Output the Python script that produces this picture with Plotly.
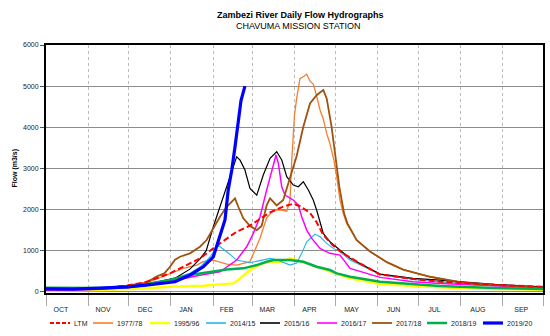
import plotly.graph_objects as go

# Day of hydrological year (0 = 1 Oct), flow in m3/s
ltm_day = [0, 20, 40, 60, 73.6, 91.3, 113.4, 128.1, 140.4, 150.2, 165, 174.7, 182.1, 187, 194.4, 199.3, 204.2, 211.6, 218.9, 231.2, 246, 270.3, 290.1, 330, 366]
ltm_val = [55, 60, 80, 150, 236, 447, 812, 1177, 1459, 1610, 1930, 2070, 2140, 2080, 1920, 1690, 1380, 1120, 930, 690, 420, 310, 245, 170, 120]

y7778_day = [0, 20, 39.8, 60, 76.6, 91.3, 101.1, 111, 115.8, 123.2, 133.1, 140.4, 150.2, 157.6, 162.5, 167.4, 172.3, 177.3, 179.7, 181, 183, 184.6, 187, 190, 192, 194.4, 196.8, 199.3, 201.8, 204.2, 206.7, 209.1, 212, 214.1, 216.5, 218.9, 221.4, 228.8, 238.6, 251, 263, 282.8, 307, 332, 366]
y7778_val = [60, 60, 80, 150, 250, 450, 569, 649, 730, 771, 673, 649, 730, 1300, 1800, 1980, 1990, 1960, 2230, 3203, 4300, 4700, 5180, 5240, 5290, 5120, 5050, 4760, 4420, 4200, 3850, 3600, 3203, 2797, 2230, 1906, 1663, 1257, 980, 720, 540, 365, 219, 163, 97]

y9596_day = [0, 20, 39.8, 60, 76.6, 91.3, 115.8, 137.9, 141.6, 145.3, 150.2, 155.2, 160, 165, 174.7, 179.7, 184.6, 192, 199.3, 209.1, 216.5, 223.9, 246, 290.1, 330, 366]
y9596_val = [30, 30, 40, 60, 90, 122, 146, 204, 285, 380, 528, 620, 690, 730, 730, 812, 771, 690, 608, 486, 406, 326, 187, 107, 70, 50]

y1415_day = [0, 20, 39.8, 60, 73.6, 91.3, 106, 113.4, 120.8, 126.9, 133.1, 140.4, 150.2, 157.6, 165, 169.9, 174.7, 179.7, 184.6, 188.3, 192, 198.1, 201.8, 206.7, 211.6, 216.5, 223.9, 246, 270.3, 290.1, 330, 366]
y1415_val = [50, 50, 70, 120, 180, 300, 450, 600, 850, 1130, 973, 771, 705, 760, 812, 780, 706, 649, 700, 934, 1216, 1403, 1338, 1177, 1055, 973, 771, 420, 300, 240, 150, 110]

y1516_day = [0, 20, 39.8, 60, 73.6, 95, 106, 113.4, 118, 123.2, 128.1, 133.1, 136.8, 140.4, 142.9, 146.5, 150.2, 155.2, 160, 165, 169.9, 173.6, 177.3, 182.1, 185.8, 189.5, 193.2, 196.8, 199.3, 201.8, 204.2, 209.1, 216.5, 223.9, 246, 270.3, 290.1, 330, 366]
y1516_val = [60, 55, 80, 130, 180, 330, 550, 800, 1000, 1581, 2067, 2554, 2879, 3283, 3200, 2960, 2515, 2350, 2838, 3244, 3405, 3203, 2797, 2595, 2554, 2675, 2473, 2230, 1987, 1663, 1420, 1216, 1014, 812, 430, 326, 285, 180, 120]

y1617_day = [0, 20, 39.8, 60, 73.6, 91.3, 113.4, 128.1, 140.4, 147.8, 152.7, 157.6, 162.5, 167.4, 169.4, 171.1, 173.6, 176, 182.1, 185.8, 188.3, 192, 195.7, 201.8, 209.1, 216.5, 223.9, 246, 270.3, 290.1, 330, 366]
y1617_val = [40, 40, 60, 100, 150, 250, 400, 486, 771, 1095, 1420, 1824, 2473, 3040, 3324, 3122, 2554, 2352, 2230, 2108, 1824, 1500, 1298, 1055, 934, 892, 569, 350, 243, 204, 140, 90]

y1718_day = [0, 20, 39.8, 60, 73.6, 81, 87.1, 91.3, 95, 98.7, 106, 113.4, 118.3, 123.2, 128.1, 133.1, 136.8, 139.2, 141.6, 145.3, 150.2, 155.2, 158.8, 162.5, 165, 169.9, 174.7, 179.7, 184.6, 189.5, 194.4, 199.3, 204.2, 206.7, 210.3, 213.5, 216, 219.5, 222, 228.8, 238.6, 251, 263, 282.8, 307, 332, 366]
y1718_val = [70, 70, 90, 150, 211, 365, 447, 608, 780, 851, 934, 1095, 1257, 1542, 1824, 2067, 2189, 2271, 2067, 1785, 1600, 1500, 1600, 2100, 2271, 2100, 2230, 2750, 3300, 4013, 4580, 4780, 4905, 4700, 4013, 3203, 2554, 1906, 1663, 1257, 980, 720, 540, 365, 219, 163, 97]

y1819_day = [0, 20, 39.8, 60, 73.6, 91.3, 106, 113.4, 120.8, 133.1, 145.3, 150.2, 155.2, 162.5, 167.4, 172.3, 179.7, 189.5, 199.3, 209.1, 214.1, 223.9, 246, 290.1, 330, 366]
y1819_val = [100, 95, 90, 110, 180, 285, 406, 447, 486, 540, 569, 600, 649, 730, 771, 771, 771, 730, 608, 528, 447, 365, 243, 139, 90, 70]

y1920_day = [0, 20, 39.8, 60, 73.6, 95, 106, 115.8, 123.2, 127, 131.8, 134.2, 136.8, 139.2, 141.6, 143.6, 146.5]
y1920_val = [70, 65, 90, 120, 163, 243, 406, 608, 851, 1257, 1744, 2473, 2960, 3526, 4176, 4650, 5000]

month_labels = ["OCT", "NOV", "DEC", "JAN", "FEB", "MAR", "APR", "MAY", "JUN", "JUL", "AUG", "SEP"]
month_starts = [0, 31, 61, 92, 123, 152, 183, 213, 244, 274, 305, 336, 366]
label_pos = [11, 42, 73, 103, 133, 163, 194, 225, 256, 286, 318, 350]

# name, x, y, colour, width, dash, draw order
series = [
    ("LTM", ltm_day, ltm_val, "#FF0000", 2, "6px,3px", 8),
    ("1977/78", y7778_day, y7778_val, "#F57E2E", 1.3, "solid", 1),
    ("1995/96", y9596_day, y9596_val, "#FFFF00", 2.5, "solid", 2),
    ("2014/15", y1415_day, y1415_val, "#22B4EE", 1.1, "solid", 3),
    ("2015/16", y1516_day, y1516_val, "#000000", 1.2, "solid", 4),
    ("2016/17", y1617_day, y1617_val, "#FF00FF", 1.5, "solid", 5),
    ("2017/18", y1718_day, y1718_val, "#A0520F", 1.8, "solid", 6),
    ("2018/19", y1819_day, y1819_val, "#00B050", 2.5, "solid", 7),
    ("2019/20", y1920_day, y1920_val, "#0000FF", 3.2, "solid", 9),
]

# legend layout (pixels): start of each sample line
W, H = 550, 336
L, R, T, B = 46, 7, 45, 43
PW, PH = W - L - R, H - T - B
legend_line_x = [50, 93, 150, 206, 260, 317, 372, 427, 483]
legend_y = 323

def px_x(p):
    return (p - L) / PW

def px_y(p):
    return (H - B - p) / PH

FONT = "Arial, Liberation Sans, sans-serif"
fig = go.Figure()
for name, d, v, c, w, dash, order in sorted(series, key=lambda s: s[6]):
    fig.add_trace(go.Scatter(x=d, y=v, mode="lines", name=name, showlegend=False,
                             line=dict(color=c, width=w, dash=dash)))

# Legend drawn as a row of samples + labels
for (name, d, v, c, w, dash, order), lx in zip(series, legend_line_x):
    fig.add_shape(type="line", xref="paper", yref="paper",
                  x0=px_x(lx), x1=px_x(lx + 20), y0=px_y(legend_y), y1=px_y(legend_y),
                  line=dict(color=c, width=max(w, 1.6), dash=("4px,2px" if dash != "solid" else "solid")))
    fig.add_annotation(text=name, xref="paper", yref="paper", x=px_x(lx + 22), y=px_y(legend_y),
                       xanchor="left", yanchor="middle", showarrow=False,
                       font=dict(size=7, color="#222"))

fig.update_layout(
    width=W, height=H,
    margin=dict(l=L, r=R, t=T, b=B, autoexpand=False),
    paper_bgcolor="white", plot_bgcolor="white",
    font=dict(family=FONT, size=7, color="#222"),
    showlegend=False,
)
fig.add_annotation(text="<b>Zambezi River Daily Flow Hydrographs</b>", xref="paper", yref="paper",
                   x=px_x(300), y=px_y(15), showarrow=False,
                   font=dict(size=9, color="#000"), xanchor="center", yanchor="middle")
fig.add_annotation(text="CHAVUMA MISSION STATION", xref="paper", yref="paper",
                   x=px_x(298), y=px_y(26.5), showarrow=False,
                   font=dict(size=9, color="#000"), xanchor="center", yanchor="middle")
fig.add_annotation(text="<b>Flow (m3/s)</b>", xref="paper", yref="paper",
                   x=px_x(14.5), y=px_y(168), showarrow=False, textangle=-90,
                   font=dict(size=7, color="#000"), xanchor="center", yanchor="middle")

fig.update_xaxes(
    range=[0, 366], tickmode="array", tickvals=label_pos, ticktext=month_labels,
    ticks="outside", ticklen=9, tickcolor="rgba(0,0,0,0)", showgrid=False,
    showline=True, linecolor="black", linewidth=2, mirror=True, zeroline=False,
    tickfont=dict(size=7, color="#222"),
    minor=dict(tickmode="array", tickvals=month_starts, ticks="outside", ticklen=11,
               tickcolor="#AAAAAA", showgrid=True, gridcolor="#BBBBBB", griddash="dot", gridwidth=1),
)
fig.update_yaxes(
    range=[-30, 6000], tickmode="array", tickvals=[0, 1000, 2000, 3000, 4000, 5000, 6000],
    ticks="outside", ticklen=4, tickcolor="#555", showgrid=True, gridcolor="#8C8C8C", gridwidth=1,
    showline=True, linecolor="black", linewidth=2, mirror=True, zeroline=False,
    tickfont=dict(size=7, color="#222"),
)

fig.write_html("out.html")
